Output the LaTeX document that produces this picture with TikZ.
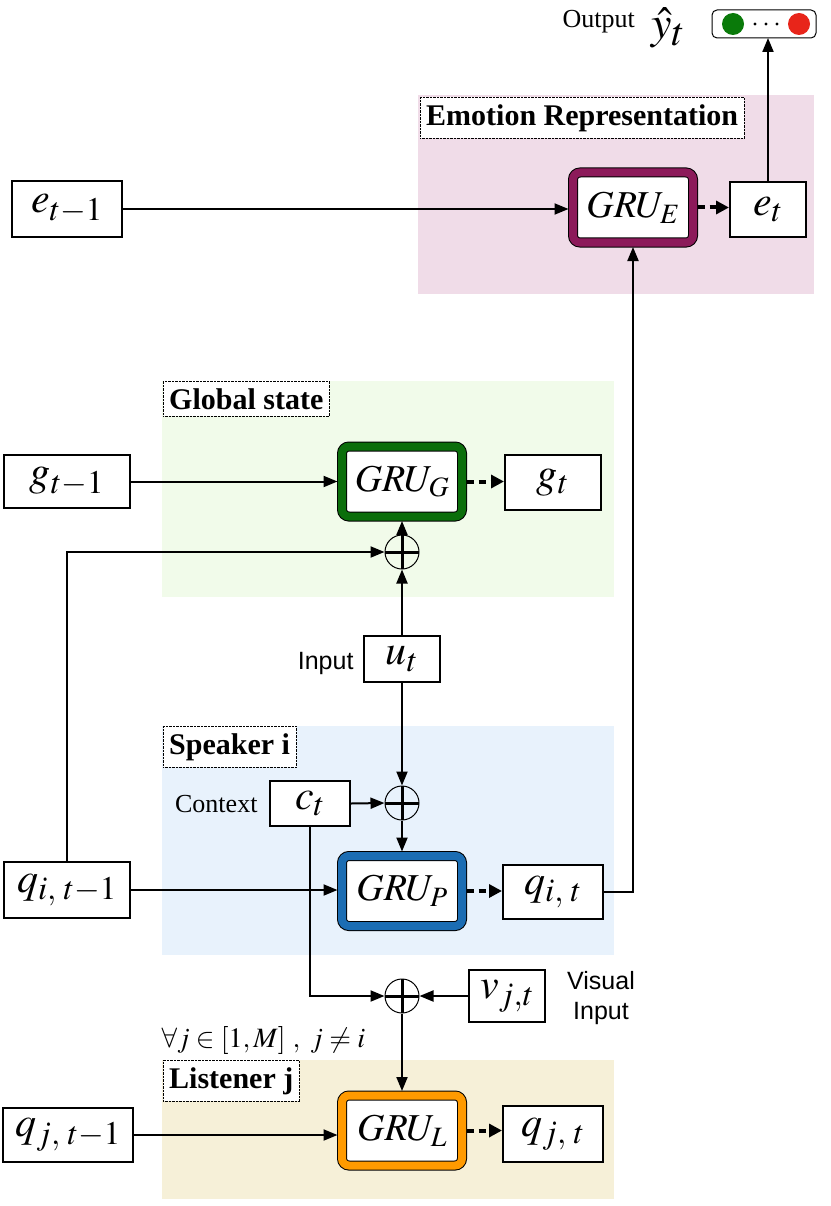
\documentclass[tikz,border=0pt]{standalone}
\usepackage{mathptmx}
\usepackage{fontspec}
\setmainfont{Liberation Serif}
\setsansfont{Liberation Sans}
\usetikzlibrary{arrows.meta}

\DeclareMathSizes{46}{46}{40}{30}
\DeclareMathSizes{42}{42}{33}{24}
\DeclareMathSizes{38}{38}{28}{20}
\DeclareMathSizes{28}{28}{20}{14}

\definecolor{emoBg}{HTML}{F0DCE8}
\definecolor{globBg}{HTML}{F1FBEA}
\definecolor{spkBg}{HTML}{E8F2FC}
\definecolor{lisBg}{HTML}{F6F0D8}
\definecolor{gruEcol}{HTML}{8C1A5A}
\definecolor{gruGcol}{HTML}{0B6E0B}
\definecolor{gruPcol}{HTML}{1B6DB3}
\definecolor{gruLcol}{HTML}{FF9A00}
\definecolor{outGreen}{HTML}{0A7A0A}
\definecolor{outRed}{HTML}{E8251A}

\begin{document}
\begin{tikzpicture}[x=1pt, y=-1pt,
        >={Triangle[length=14pt,width=11pt]},
        flow/.style={->, line width=2pt},
        gostate/.style={-{Triangle[length=13pt,width=13pt]}, line width=4pt, dash pattern=on 7pt off 5pt},
        state/.style={draw, line width=2pt, fill=white, inner sep=0pt, font=\fontsize{42}{46}\selectfont},
        gru/.style={draw=black, line width=1pt, double=#1, double distance=8pt, fill=white, rounded corners=7pt,
            minimum width=120pt, minimum height=70pt, outer sep=4.5pt, inner sep=0pt, font=\fontsize{38}{42}\selectfont},
        addop/.style={circle, draw, line width=1pt, minimum size=34pt, inner sep=0pt,
            path picture={\draw[line width=3pt] (path picture bounding box.north) -- (path picture bounding box.south)
                (path picture bounding box.west) -- (path picture bounding box.east);}},
        paneltag/.style={draw, densely dotted, fill=white, anchor=north west, inner xsep=6pt, inner ysep=7pt,
            font=\fontsize{30}{33}\selectfont\bfseries},
        note/.style={font=\fontsize{26}{30}\selectfont},
        sansnote/.style={font=\fontsize{25}{30}\selectfont\sffamily}]

        \useasboundingbox (0,0) rectangle (830,1206);

        % panels
        \fill[emoBg] (418,95) rectangle (814,294);
        \fill[globBg] (162,381) rectangle (614,597);
        \fill[spkBg] (162,726) rectangle (614,955);
        \fill[lisBg] (162,1060) rectangle (614,1199);

        \node[paneltag] (emotag) at (420,97) {Emotion Representation};
        \node[paneltag] (globtag) at (163,381) {Global state};
        \node[paneltag] (spktag) at (163,726) {Speaker i};
        \node[paneltag] (listag) at (163,1060) {Listener j};

        % emotion
        \node[state, minimum width=110pt, minimum height=56pt] (et1) at (67,209) {$e_{t-1}$};
        \node[gru=gruEcol] (gruE) at (633,207.5) {$GRU_E$};
        \node[state, minimum width=76pt, minimum height=55pt] (et) at (768,209.5) {$e_t$};

        % output vector
        \draw[line width=1pt, rounded corners=5pt, fill=white] (712,10) rectangle (816,38);
        \coordinate (yhat) at (768,38);
        \fill[outGreen] (733,24) circle (11pt);
        \fill[outRed] (799,24) circle (11pt);
        \foreach \x in {755,766,777} \fill (\x,24) circle (1.6pt);
        \node[note, anchor=east, inner sep=1pt] (outlbl) at (636,22) {Output};
        \node[font=\fontsize{46}{50}\selectfont, inner sep=0pt] (yhatlbl) at (668,28) {$\hat{y}_t$};

        % global state
        \node[state, minimum width=126pt, minimum height=53pt] (gt1) at (67,481.5) {$g_{t-1}$};
        \node[gru=gruGcol] (gruG) at (402,481.5) {$GRU_G$};
        \node[state, minimum width=96pt, minimum height=55pt] (gt) at (553,482.5) {$g_t$};
        \node[addop] (plusG) at (402,552) {};

        \node[state, minimum width=76pt, minimum height=46pt] (ut) at (402,659) {$u_t$};
        \node[sansnote, anchor=east] (inlbl) at (357,663) {Input};

        % speaker
        \node[addop] (plusS) at (402,803) {};
        \node[state, minimum width=80pt, minimum height=45pt] (ct) at (310,803.5) {$c_t$};
        \node[note, anchor=east] (ctxlbl) at (261,804) {Context};
        \node[state, minimum width=126pt, minimum height=56pt] (qit1) at (67,890) {$q_{i,\;t-1}$};
        \node[gru=gruPcol] (gruP) at (402,891) {$GRU_P$};
        \node[state, minimum width=100pt, minimum height=54pt] (qit) at (553,892) {$q_{i,\;t}$};

        % listener
        \node[addop] (plusL) at (402,996) {};
        \node[state, minimum width=76pt, minimum height=52pt] (vjt) at (507,996) {$v_{j,t}$};
        \node[sansnote, align=center] (vislbl) at (601,998) {Visual\\Input};
        \node[font=\fontsize{28}{30}\selectfont, anchor=west] (forall) at (158,1040) {$\forall j\in[1,M]\ ,\ j\neq i$};
        \node[state, minimum width=130pt, minimum height=54pt] (qjt1) at (68,1135) {$q_{j,\;t-1}$};
        \node[gru=gruLcol] (gruL) at (402,1130.5) {$GRU_L$};
        \node[state, minimum width=100pt, minimum height=56pt] (qjt) at (553,1134) {$q_{j,\;t}$};

        % connectors
        \draw[flow] (et1.east) -- (et1.east -| gruE.west);
        \draw[gostate] (gruE.east) -- (gruE.east -| et.west);
        \draw[flow] (et.north) -- (yhat);

        \draw[flow] (gt1.east) -- (gt1.east -| gruG.west);
        \draw[gostate] (gruG.east) -- (gruG.east -| gt.west);
        \draw[flow] (plusG.north) -- (gruG.south);
        \draw[flow] (ut.north) -- (plusG.south);
        \draw[flow] (qit1.north) |- (plusG.west);

        \draw[flow] (ut.south) -- (plusS.north);
        \draw[flow] (ct.east) -- (plusS.west);
        \draw[flow] (plusS.south) -- (gruP.north);
        \draw[flow] (qit1.east) -- (qit1.east -| gruP.west);
        \draw[gostate] (gruP.east) -- (gruP.east -| qit.west);
        \draw[flow] (qit.east) -| (gruE.south);

        \draw[flow] (ct.south) |- (plusL.west);
        \draw[flow] (vjt.west) -- (plusL.east);
        \draw[flow] (plusL.south) -- (gruL.north);
        \draw[flow] (qjt1.east) -- (qjt1.east -| gruL.west);
        \draw[gostate] (gruL.east) -- (gruL.east -| qjt.west);

    \end{tikzpicture}
\end{document}
